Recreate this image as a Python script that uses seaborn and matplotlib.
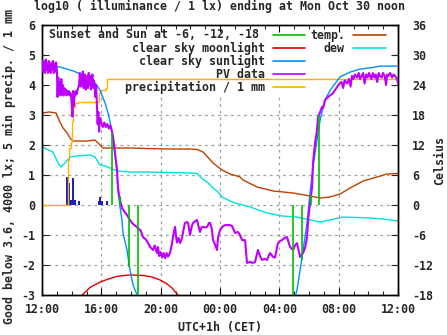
import numpy as np
import pandas as pd
import matplotlib
matplotlib.use("Agg")
import matplotlib.pyplot as plt
import seaborn as sns
from matplotlib.patches import Rectangle

# ---------------- data (hours after 12:00, values) ----------------
pv_t = [0.0,0.05,0.1,0.15,0.2,0.25,0.3,0.35,0.4,0.45,0.5,0.55,0.6,0.65,0.7,0.75,0.8,0.85,0.9,0.95,1.0,
        1.05,1.1,1.15,1.2,1.25,1.3,1.35,1.4,1.45,1.5,1.55,1.6,1.65,1.7,1.75,1.8,1.85,1.9,1.95,
        2.0,2.05,2.1,2.15,2.2,2.25,2.3,2.35,2.4,
        2.5,2.55,2.6,2.65,2.7,2.75,2.8,2.85,2.9,2.95,3.0,3.05,3.1,3.15,3.2,3.25,3.3,3.35,3.4,3.45,3.5,3.55,
        3.6,3.65,3.7,3.75,3.8,3.85,3.9,
        4.0,4.1,4.2,4.3,4.4,4.5,4.6,4.7,
        4.8,4.92,5.06,5.12,5.2,5.26,5.39,5.6,5.73,5.93,6.07,6.3,6.47,6.65,6.81,7.0,7.15,7.3,7.48,7.6,7.75,7.82,7.9,
        8.0,8.1,8.2,8.3,8.4,8.5,8.63,8.77,8.85,8.97,9.05,9.1,9.2,9.31,9.44,9.55,9.64,9.78,9.85,9.98,10.1,10.18,
        10.3,10.45,10.55,10.65,10.75,10.86,11.0,11.13,11.25,11.33,11.45,11.53,11.65,11.8,11.87,12.0,12.14,12.34,
        12.5,12.68,12.81,13.01,13.22,13.35,13.49,13.69,13.82,14.03,14.2,14.36,14.56,14.7,14.83,15.0,15.17,15.37,
        15.58,15.71,15.91,16.05,16.18,16.35,16.52,16.72,16.93,17.05,17.19,17.4,17.6,17.75,17.87,17.94,18.07,
        18.21,18.27,18.41,18.54,18.61,18.75,18.88,18.95,19.08,19.29,19.42,19.62,19.89,20.09,
        20.2,20.3,20.4,20.57,20.7,20.8,20.9,21.0,21.1,21.24,21.35,21.44,21.55,21.65,21.75,21.85,21.95,22.05,
        22.12,22.2,22.3,22.4,22.5,22.59,22.7,22.79,22.9,22.99,23.1,23.2,23.26,23.35,23.47,23.6,23.7,23.8,23.94,24.0]
pv_v = [4.5,4.8,4.45,4.75,4.4,4.85,4.5,4.7,4.4,4.8,4.45,4.7,4.4,4.75,4.5,4.8,4.4,4.7,4.45,4.75,4.5,
        3.6,4.25,3.7,4.1,3.65,4.2,3.8,4.0,3.65,3.9,3.7,3.85,3.65,3.8,3.7,3.8,3.65,3.75,3.7,
        3.4,2.95,3.8,3.3,3.75,3.65,3.8,3.7,3.85,
        4.0,4.4,3.95,4.3,4.05,4.45,3.9,4.2,4.35,3.85,4.1,4.3,3.9,4.4,4.0,4.3,3.85,4.2,4.35,3.9,4.15,3.9,
        3.6,4.0,3.3,2.7,3.1,2.45,2.9,
        2.75,2.6,2.75,2.6,2.7,2.55,2.65,2.5,
        2.25,1.73,1.17,0.6,0.3,0.17,-0.1,-0.25,-0.33,-0.5,-0.6,-0.7,-0.77,-0.85,-1.07,-1.15,-1.27,-1.4,-1.5,-1.35,-1.6,-1.4,-1.7,
        -1.57,-1.75,-1.6,-1.77,-1.6,-1.72,-1.6,-1.27,-1.0,-0.73,-1.1,-1.25,-1.1,-1.27,-1.1,-0.8,-0.6,-0.57,-0.6,-1.0,-0.7,-0.6,
        -0.55,-0.5,-0.7,-0.9,-0.75,-0.73,-0.75,-0.73,-0.6,-0.6,-0.8,-1.17,-1.3,-1.5,-1.07,-0.85,-0.73,-0.67,
        -0.67,-0.67,-0.7,-0.93,-0.9,-1.0,-1.17,-1.17,-1.93,-1.9,-1.93,-1.9,-1.5,-1.7,-1.83,-1.8,-1.83,-1.6,
        -1.73,-1.75,-1.27,-1.2,-1.17,-1.1,-1.07,-1.4,-1.5,-1.35,-1.27,-1.73,-1.6,-1.4,-1.07,-0.5,0.07,
        0.6,1.4,2.07,2.5,2.93,3.1,3.27,3.23,3.5,3.6,3.65,3.73,3.93,4.07,
        4.1,3.9,4.15,4.05,4.2,3.95,4.3,4.2,4.35,4.25,4.4,4.2,4.3,4.4,4.05,4.35,4.25,4.4,
        4.3,4.2,4.4,4.25,4.35,4.1,4.4,4.3,4.25,4.4,4.3,4.0,4.35,4.3,4.4,4.25,4.35,4.3,4.2,4.05]

sun_eve_t = [0.0,0.07,1.21,2.09,2.76,3.44,3.91,4.25,4.45,4.59,4.79,4.92,5.06,5.12,5.26,5.39,5.46,5.73,5.93,6.14,6.41,6.5]
sun_eve_v = [4.72,4.7,4.6,4.47,4.33,4.17,3.83,3.4,3.07,2.77,2.17,1.73,1.07,0.5,-0.07,-0.5,-0.93,-1.5,-2.17,-2.67,-3.0,-3.2]
sun_mor_t = [17.0,17.19,17.4,17.6,17.87,18.07,18.27,18.54,18.75,18.95,19.15,19.42,20.09,20.77,21.44,22.12,22.79,23.47,24.0]
sun_mor_v = [-3.2,-2.83,-2.17,-1.5,-0.6,0.4,1.27,2.17,2.83,3.27,3.57,3.82,4.27,4.43,4.53,4.57,4.63,4.63,4.63]

moon_t = [2.55,2.7,3.24,3.91,4.45,5.06,5.93,6.81,7.42,7.96,8.43,8.77,9.17,9.3]
moon_v = [-3.1,-3.0,-2.75,-2.57,-2.47,-2.38,-2.33,-2.35,-2.4,-2.5,-2.63,-2.77,-3.0,-3.1]

sun_event_t = [4.72,5.26,5.87,6.47,16.93,17.53,18.14,18.68]
sun_event_v = [2.4,0.3,-2.05,-3.5,-3.5,-1.83,0.33,3.0]

rain_t = [1.72,1.8,1.9,1.98,2.12,2.2,2.52,3.84,3.91,4.02,4.36]
rain_v = [0.93,0.75,0.17,0.17,0.9,0.17,0.15,0.15,0.27,0.15,0.15]

cum_t = [0.0,1.62,1.72,1.8,1.95,2.05,2.1,2.23,2.45,3.78,3.84,3.98,4.3,4.38,24.0]
cum_v = [0.0,0.0,1.5,1.9,2.1,2.8,3.27,3.4,3.45,3.45,3.75,3.85,3.9,4.2,4.2]

temp_t = [0.0,0.5,0.95,1.21,1.42,1.69,1.89,2.09,3.03,3.57,3.78,4.11,5.93,7.0,8.5,10.0,10.45,10.86,11.53,
          12.14,12.68,13.35,13.55,14.5,15.58,16.93,18.07,18.75,19.42,20.09,20.77,21.65,22.59,23.26,24.0]
temp_c = [18.4,18.6,18.4,16.6,15.4,14.4,13.4,12.8,12.8,13.0,12.4,11.4,11.4,11.3,11.2,11.2,11.1,10.6,8.4,
          7.0,6.2,5.6,5.0,3.6,2.8,2.4,1.8,1.4,1.6,2.2,3.4,4.8,5.6,6.2,6.3]

dew_t = [0.0,0.74,1.08,1.28,1.55,1.89,2.36,3.24,3.57,3.91,4.25,4.59,5.06,5.93,7.0,8.5,10.0,10.45,10.86,11.13,
         11.53,11.87,12.14,12.68,13.01,14.03,15.17,16.18,17.19,18.07,18.75,19.42,20.3,21.24,22.12,22.99,23.94,24.0]
dew_c = [11.6,10.6,8.4,7.6,8.4,9.6,9.8,10.0,9.6,8.0,7.8,7.4,6.8,6.6,6.6,6.5,6.4,6.3,5.1,4.6,
         3.4,2.6,1.6,0.8,0.4,-0.4,-1.6,-2.2,-2.4,-3.0,-3.4,-3.0,-2.4,-2.5,-2.6,-2.8,-3.2,-3.0]

x_tick_labels = ["12:00","16:00","20:00","00:00","04:00","08:00","12:00"]
legend_left = ["Sunset and Sun at -6, -12, -18", "clear sky moonlight", "clear sky sunlight",
               "PV data", "precipitation / 1 mm"]
legend_right = ["temp.", "dew"]

C_GREEN = "#00c000"; C_MOON = "#e00000"; C_SUN = "#0090ff"; C_PV = "#c000ff"
C_CUM = "#ffb000"; C_RAIN = "#2020c0"; C_TEMP = "#c04000"; C_DEW = "#00e0e0"

# ---------------- style ----------------
sns.set_theme(style="white")
plt.rcParams["font.family"] = ["DejaVu Sans Mono"]
plt.rcParams["font.weight"] = "bold"
plt.rcParams["axes.unicode_minus"] = False
FS = 8.4

W, H = 447, 335
fig = plt.figure(figsize=(W/100, H/100), dpi=100)
L, R, T, B = 42, 398, 25, 295
ax = fig.add_axes([L/W, 1-B/H, (R-L)/W, (B-T)/H])

ax.set_xlim(0, 24)
ax.set_ylim(-3, 6)

def px2ax(x, y):
    return ((x - L) / (R - L), (B - y) / (B - T))

ax2 = ax.twinx()
ax2.set_zorder(ax.get_zorder() - 1)
ax.patch.set_visible(False)
ax2.patch.set_visible(True)
ax2.patch.set_facecolor("white")
fig.patch.set_facecolor("white")

# grid (on the lower axis so that all data lines lie above it)
for xv in [4, 8, 12, 16, 20]:
    ax2.axvline(xv, color="#a0a0a0", lw=0.9, ls=(0, (2.2, 3)), zorder=0.5)
for yv in range(-2, 6):
    ax2.axhline(yv * 6, color="#a0a0a0", lw=0.9, ls=(0, (2.2, 3)), zorder=0.5)
# opaque key area (hides the grid behind the key)
x0, y0 = px2ax(45, 97)
x1, y1 = px2ax(390, 26)
ax2.add_patch(Rectangle((x0, y0), x1 - x0, y1 - y0, transform=ax2.transAxes,
                        facecolor="white", edgecolor="none", zorder=0.8))

sns.lineplot(x=temp_t, y=temp_c, ax=ax2, color=C_TEMP, lw=1.0, sort=False, estimator=None, zorder=2)
sns.lineplot(x=dew_t, y=dew_c, ax=ax2, color=C_DEW, lw=1.0, sort=False, estimator=None, zorder=2)

ax.bar(rain_t, rain_v, width=0.14, color=C_RAIN, edgecolor="none", linewidth=0, zorder=2)
sns.lineplot(x=cum_t, y=cum_v, ax=ax, color=C_CUM, lw=1.0, sort=False, estimator=None,
             drawstyle="steps-post", zorder=2)
sns.lineplot(x=moon_t, y=moon_v, ax=ax, color=C_MOON, lw=1.0, sort=False, estimator=None, zorder=2)
sns.lineplot(x=sun_eve_t, y=sun_eve_v, ax=ax, color=C_SUN, lw=1.0, sort=False, estimator=None, zorder=3)
sns.lineplot(x=sun_mor_t, y=sun_mor_v, ax=ax, color=C_SUN, lw=1.0, sort=False, estimator=None, zorder=3)
sns.lineplot(x=pv_t, y=pv_v, ax=ax, color=C_PV, lw=1.5, sort=False, estimator=None, zorder=4)
ax.vlines(sun_event_t, 0, sun_event_v, colors=C_GREEN, lw=1.2, zorder=5)

ax.set_xlim(0, 24)
ax.set_ylim(-3, 6)
ax2.set_xlim(0, 24)
ax2.set_ylim(-18, 36)

# ticks
ax.set_xticks(range(0, 25, 4))
ax.set_xticklabels(x_tick_labels)
ax.set_xticks(range(0, 25, 1), minor=True)
ax.set_yticks(range(-3, 7))
ax2.set_yticks(range(-18, 37, 6))
ax.tick_params(axis="x", which="major", direction="in", length=5, width=0.8, top=True,
               bottom=True, pad=6, labelsize=FS, color="black")
ax.tick_params(axis="x", which="minor", direction="in", length=3, width=0.8, top=True, bottom=True)
ax.tick_params(axis="y", which="major", direction="in", length=5, width=0.8, left=True,
               right=False, pad=5, labelsize=FS)
ax2.tick_params(axis="y", which="major", direction="in", length=5, width=0.8, right=True,
                left=False, pad=10, labelsize=FS)
ax2.tick_params(axis="x", which="both", bottom=False, top=False, labelbottom=False)
for a in (ax, ax2):
    for s in a.spines.values():
        s.set_color("black"); s.set_linewidth(1.0)
    a.set_xlabel(""); a.set_ylabel("")
for lab in ax.get_xticklabels() + ax.get_yticklabels() + ax2.get_yticklabels():
    lab.set_fontweight("bold")

# key (gnuplot style: right-aligned text, sample to the right)
rows_y = [35, 48, 61, 74, 87]
left_cols = [C_GREEN, C_MOON, C_SUN, C_PV, C_CUM]
for i, (lab, c) in enumerate(zip(legend_left, left_cols)):
    tx, ty = px2ax(265 if i else 259, rows_y[i])
    ax.text(tx, ty, lab, transform=ax.transAxes, ha="right", va="center", fontsize=FS,
            fontweight="bold", zorder=6)
    sx0, sy = px2ax(273, rows_y[i]); sx1, _ = px2ax(305, rows_y[i])
    ax.plot([sx0, sx1], [sy, sy], transform=ax.transAxes, color=c, lw=1.2, zorder=6)
for i, (lab, c) in enumerate(zip(legend_right, [C_TEMP, C_DEW])):
    tx, ty = px2ax(345, rows_y[i])
    ax.text(tx, ty, lab, transform=ax.transAxes, ha="right", va="center", fontsize=FS,
            fontweight="bold", zorder=6)
    sx0, sy = px2ax(353, rows_y[i]); sx1, _ = px2ax(386, rows_y[i])
    ax.plot([sx0, sx1], [sy, sy], transform=ax.transAxes, color=c, lw=1.2, zorder=6)

# labels
fig.text(220/W, 1-6/H, "log10 ( illuminance / 1 lx) ending at Mon Oct 30 noon",
         ha="center", va="center", fontsize=FS, fontweight="bold")
fig.text(220/W, 1-328/H, "UTC+1h (CET)", ha="center", va="center", fontsize=FS, fontweight="bold")
fig.text(9/W, 1-167/H, "Good below 3.6, 4000 lx; 5 min precip. / 1 mm", rotation=90,
         ha="center", va="center", fontsize=FS, fontweight="bold")
fig.text(440/W, 1-160/H, "Celsius", rotation=90, ha="center", va="center", fontsize=FS,
         fontweight="bold")

fig.savefig("out.png", dpi=100, facecolor="white")
